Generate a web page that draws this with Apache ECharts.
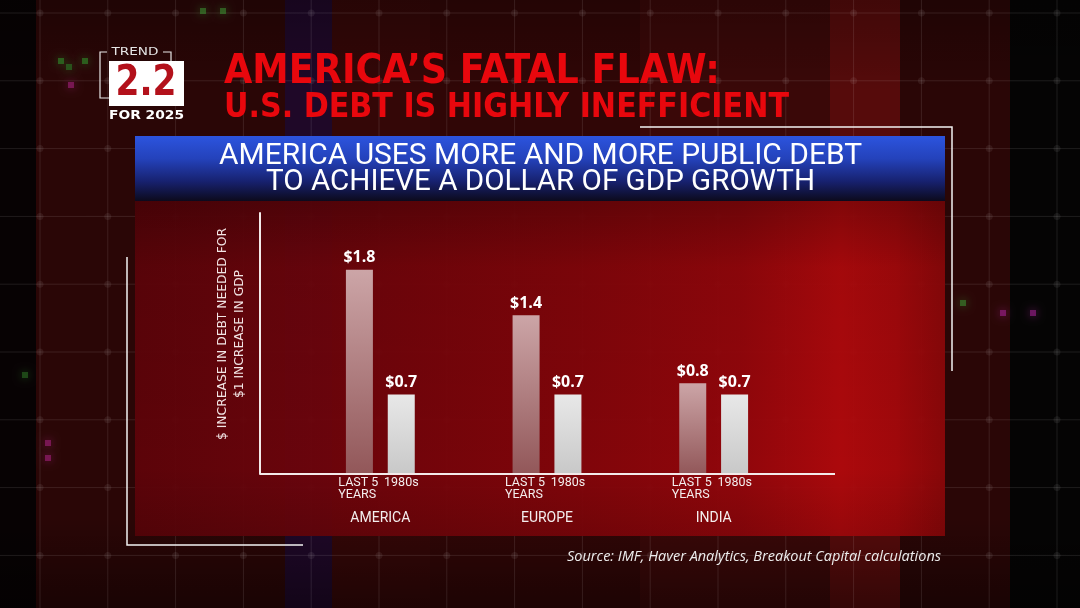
<!DOCTYPE html>
<html><head><meta charset="utf-8">
<script src="https://cdn.jsdelivr.net/npm/echarts@6/dist/echarts.min.js"></script>
<style>html,body{margin:0;padding:0;background:#000}#c{width:1080px;height:608px}</style>
</head><body><div id="c"></div>
<script>
// ---- data ----
const regions = ['AMERICA', 'EUROPE', 'INDIA'];
const periods = ['LAST 5 YEARS', '1980s'];
const periodLabelLines = [['LAST 5', 'YEARS'], ['1980s', ' ']];
const last5Values = [1.8, 1.4, 0.8];
const eightiesValues = [0.7, 0.7, 0.7];
const titleLines = ['AMERICA\u2019S FATAL FLAW:', 'U.S. DEBT IS HIGHLY INEFFICIENT'];
const subtitleLines = ['AMERICA USES MORE AND MORE PUBLIC DEBT', 'TO ACHIEVE A DOLLAR OF GDP GROWTH'];
const yAxisNameLines = ['$ INCREASE IN DEBT NEEDED FOR', '$1 INCREASE IN GDP'];
const sourceText = 'Source: IMF, Haver Analytics, Breakout Capital calculations';
const badgeTop = 'TREND', badgeNum = '2.2', badgeBottom = 'FOR 2025';

// ---- helpers ----
const mctx = document.createElement('canvas').getContext('2d');
function measure(text, font) { mctx.font = font; return mctx.measureText(text).width; }
function fitText(text, font, x, y, width, fill, align, z, extra) {
  const s = width / measure(text, font);
  return Object.assign({
    type: 'text', x: x, y: y, scaleX: s, z: z,
    style: { text: text, font: font, fill: fill, align: align, textAlign: align,
             verticalAlign: 'middle', textVerticalAlign: 'middle', x: 0, y: 0 }
  }, extra || {});
}
function vgrad(stops) { return { type: 'linear', x: 0, y: 0, x2: 0, y2: 1, colorStops: stops.map(s => ({ offset: s[0], color: s[1] })) }; }
function hgrad(stops) { return { type: 'linear', x: 0, y: 0, x2: 1, y2: 0, colorStops: stops.map(s => ({ offset: s[0], color: s[1] })) }; }

const graphics = [];
// background bands
const bands = [
  [0, 36, '#070203'], [36, 285, '#2a0606'], [285, 332, '#1f0828'], [332, 430, '#340707'],
  [430, 640, '#300606'], [640, 830, '#3a0808'], [830, 900, '#560b0b'], [900, 1010, '#2a0606'], [1010, 1080, '#050404']
];
bands.forEach(b => graphics.push({ type: 'rect', z: 1, shape: { x: b[0], y: 0, width: b[1] - b[0], height: 608 }, style: { fill: b[2] } }));
graphics.push({ type: 'rect', z: 1.5, shape: { x: 0, y: 0, width: 1080, height: 608 },
  style: { fill: vgrad([[0, 'rgba(0,0,0,0.25)'], [0.15, 'rgba(0,0,0,0)'], [0.85, 'rgba(0,0,0,0)'], [1, 'rgba(0,0,0,0.4)']]) } });
// faint background grid
for (let i = 0; i < 16; i++) {
  const gx = 40 + 67.8 * i;
  graphics.push({ type: 'line', z: 2, shape: { x1: gx, y1: 0, x2: gx, y2: 608 }, style: { stroke: 'rgba(255,255,255,0.10)', lineWidth: 1 } });
}
for (let j = 0; j < 9; j++) {
  const gy = 13 + 67.8 * j;
  graphics.push({ type: 'line', z: 2, shape: { x1: 0, y1: gy, x2: 1080, y2: gy }, style: { stroke: 'rgba(255,255,255,0.10)', lineWidth: 1 } });
  for (let i = 0; i < 16; i++) {
    graphics.push({ type: 'circle', z: 2, shape: { cx: 40 + 67.8 * i, cy: gy, r: 3.5 }, style: { fill: 'rgba(255,255,255,0.07)' } });
  }
}
// few glowing pixels
[[58, 58, '#2f8a2a'], [66, 64, '#2a7a26'], [82, 58, '#2f8a2a'], [200, 8, '#3a8a30'], [220, 8, '#3a8a30'], [22, 372, '#2a6a22'],
 [68, 82, '#a0207a'], [45, 440, '#a0207a'], [45, 455, '#a0207a'], [1000, 310, '#a02090'], [1030, 310, '#a02090'], [960, 300, '#3a8a30']]
  .forEach(p => graphics.push({ type: 'rect', z: 2, shape: { x: p[0], y: p[1], width: 6, height: 6 }, style: { fill: p[2], opacity: 0.6, shadowBlur: 8, shadowColor: p[2] } }));

// red chart panel
graphics.push({ type: 'rect', z: 3, shape: { x: 135, y: 200, width: 810, height: 336 },
  style: { opacity: 0.95, fill: hgrad([[0, '#5e0309'], [0.15, '#68040b'], [0.35, '#76040a'], [0.55, '#84050a'], [0.75, '#95060b'], [0.87, '#b0090c'], [0.94, '#a4080b'], [1, '#8c0709']]) } });
graphics.push({ type: 'rect', z: 3.5, shape: { x: 135, y: 200, width: 810, height: 336 },
  style: { fill: vgrad([[0, 'rgba(0,0,0,0.25)'], [0.2, 'rgba(0,0,0,0.05)'], [0.8, 'rgba(0,0,0,0)'], [1, 'rgba(0,0,0,0.12)']]) } });
// blue banner
graphics.push({ type: 'rect', z: 4, shape: { x: 135, y: 136, width: 810, height: 65 },
  style: { fill: vgrad([[0, '#2c54de'], [0.35, '#2442bb'], [0.7, '#17216f'], [1, '#0c0a1c']]) } });
// frames
graphics.push({ type: 'polyline', z: 5, shape: { points: [[640, 127], [952, 127], [952, 371]] }, style: { fill: 'none', stroke: '#f2f2f2', lineWidth: 1.5 } });
graphics.push({ type: 'polyline', z: 5, shape: { points: [[127, 257], [127, 545], [303, 545]] }, style: { fill: 'none', stroke: '#f2f2f2', lineWidth: 1.5 } });
// x axis baseline (extends across the plot)
graphics.push({ type: 'line', z: 12, shape: { x1: 260, y1: 474, x2: 835, y2: 474 }, style: { stroke: '#f3e9e9', lineWidth: 2 } });

// badge
graphics.push({ type: 'polyline', z: 5, shape: { points: [[107, 52], [100, 52], [100, 98], [109, 98]] }, style: { fill: 'none', stroke: '#e8e8e8', lineWidth: 1.2 } });
graphics.push({ type: 'polyline', z: 5, shape: { points: [[163, 52], [171, 52], [171, 61]] }, style: { fill: 'none', stroke: '#e8e8e8', lineWidth: 1.2 } });
graphics.push({ type: 'rect', z: 5, shape: { x: 109, y: 61, width: 75, height: 45 }, style: { fill: '#ffffff' } });
graphics.push(fitText(badgeTop, '10px "DejaVu Sans"', 135, 52, 47, '#e6e6e6', 'center', 6));
graphics.push(fitText(badgeNum, 'bold 42px "Liberation Sans Narrow", "DejaVu Sans Condensed", sans-serif', 146, 84, 61, '#b3111b', 'center', 6));
graphics.push(fitText(badgeBottom, 'bold 12px "DejaVu Sans"', 146.5, 116, 75, '#ffffff', 'center', 6));

// titles
const titleColor = '#e8070d';
const titleShadow = { shadowColor: 'rgba(0,0,0,0.6)', shadowBlur: 4, shadowOffsetY: 1 };
const t1 = fitText(titleLines[0], 'bold 40px "Liberation Sans Narrow", "DejaVu Sans Condensed", sans-serif', 224, 73, 496, titleColor, 'left', 6);
Object.assign(t1.style, titleShadow);
const t2 = fitText(titleLines[1], 'bold 34px "Liberation Sans Narrow", "DejaVu Sans Condensed", sans-serif', 224, 108, 565, titleColor, 'left', 6);
Object.assign(t2.style, titleShadow);
graphics.push(t1, t2);
graphics.push(fitText(subtitleLines[0], '30px Roboto', 540.5, 156, 643, '#ffffff', 'center', 6));
graphics.push(fitText(subtitleLines[1], '30px Roboto', 540.5, 182, 549, '#ffffff', 'center', 6));

// y axis name (rotated)
graphics.push(fitText(yAxisNameLines[0], '13px "DejaVu Sans"', 223, 334, 212, '#f2e4e4', 'center', 6, { rotation: Math.PI / 2 }));
graphics.push(fitText(yAxisNameLines[1], '13px "DejaVu Sans"', 240, 334, 128, '#f2e4e4', 'center', 6, { rotation: Math.PI / 2 }));

// source
graphics.push(fitText(sourceText, 'italic 15px "Open Sans"', 941, 557, 374, '#ececec', 'right', 6));

// ---- chart ----
const chart = echarts.init(document.getElementById('c'), null, { renderer: 'canvas' });
const valueLabel = {
  show: true, position: 'top', distance: 4, color: '#ffffff',
  fontFamily: 'Open Sans', fontWeight: 'bold', fontSize: 16,
  formatter: p => '$' + p.value.toFixed(1)
};
const option = {
  backgroundColor: '#120304',
  animation: false,
  grid: { left: 297, right: 283, top: 213, bottom: 134 },
  xAxis: {
    type: 'category', data: regions, z: 12,
    axisLine: { show: false }, axisTick: { show: false },
    axisLabel: {
      margin: 3.5, interval: 0,
      formatter: v => '{a|' + periodLabelLines[0][0] + '}{b|' + periodLabelLines[1][0] + '}\n{a|' +
        periodLabelLines[0][1] + '}{b|' + periodLabelLines[1][1] + '}\n{c|' + v + '}',
      rich: {
        a: { width: 42, align: 'left', fontFamily: 'Roboto', fontSize: 12.5, lineHeight: 11.5, color: '#f4eeee' },
        b: { width: 42, align: 'center', fontFamily: 'Roboto', fontSize: 12.5, lineHeight: 11.5, color: '#f4eeee' },
        c: { width: 84, align: 'center', fontFamily: 'Roboto', fontSize: 14, lineHeight: 36, color: '#f4eeee' }
      }
    }
  },
  yAxis: {
    type: 'value', min: 0, max: 2.3, offset: 37, z: 12,
    axisLine: { show: true, lineStyle: { color: '#f3e9e9', width: 2 } },
    axisTick: { show: false }, axisLabel: { show: false }, splitLine: { show: false }
  },
  series: [
    {
      name: periods[0], type: 'bar', data: last5Values, barWidth: 27, barGap: '55%', z: 10,
      itemStyle: { color: vgrad([[0, '#cca5a7'], [1, '#925759']]) },
      label: valueLabel
    },
    {
      name: periods[1], type: 'bar', data: eightiesValues, barWidth: 27, barGap: '55%', z: 10,
      itemStyle: { color: vgrad([[0, '#e8e8e8'], [1, '#c8c8c8']]) },
      label: valueLabel
    }
  ],
  graphic: graphics
};
chart.setOption(option);
</script>
</body></html>
